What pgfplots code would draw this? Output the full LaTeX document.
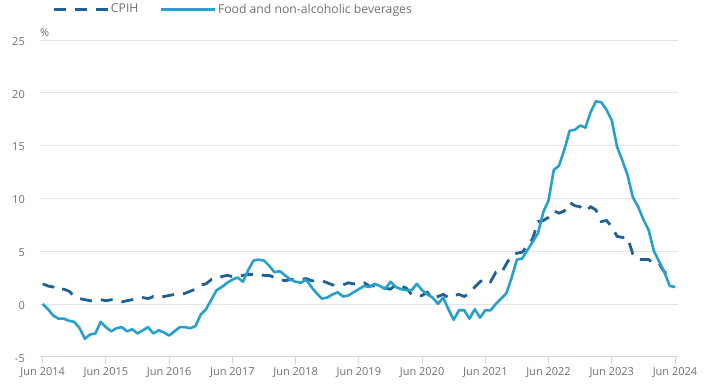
\documentclass[border=0pt]{standalone}
\usepackage{fontspec}
\setmainfont{Open Sans}
\usepackage{pgfplots}
\usepackage{pgfplotstable}
\pgfplotsset{compat=1.18}
\definecolor{cpihblue}{HTML}{206095}
\definecolor{foodblue}{HTML}{27A0CC}
\definecolor{gridgray}{HTML}{E4E4E4}
\definecolor{axisgray}{HTML}{CFD4E6}
\definecolor{txtgray}{HTML}{707070}

\pgfplotstableread{
m cpih food
0 1.9 0.0
1 1.7 -0.5
2 1.6 -1.1
3 1.3 -1.4
4 1.4 -1.4
5 1.2 -1.6
6 0.7 -1.7
7 0.5 -2.3
8 0.4 -3.3
9 0.3 -2.9
10 0.3 -2.8
11 0.4 -1.7
12 0.3 -2.2
13 0.4 -2.6
14 0.3 -2.3
15 0.2 -2.2
16 0.3 -2.6
17 0.4 -2.4
18 0.5 -2.8
19 0.6 -2.5
20 0.5 -2.2
21 0.7 -2.8
22 0.6 -2.5
23 0.7 -2.7
24 0.8 -3.0
25 0.9 -2.6
26 0.9 -2.2
27 1.0 -2.2
28 1.2 -2.3
29 1.4 -2.1
30 1.8 -1.0
31 1.9 -0.5
32 2.3 0.4
33 2.3 1.3
34 2.6 1.6
35 2.7 2.0
36 2.6 2.3
37 2.6 2.5
38 2.7 2.1
39 2.8 3.2
40 2.8 4.1
41 2.8 4.2
42 2.7 4.1
43 2.7 3.6
44 2.5 3.0
45 2.3 3.1
46 2.2 2.7
47 2.3 2.3
48 2.3 2.1
49 2.3 2.0
50 2.4 2.3
51 2.2 1.6
52 2.2 1.0
53 2.2 0.5
54 2.0 0.6
55 1.8 0.9
56 1.8 1.1
57 1.8 0.7
58 2.0 0.8
59 1.9 1.1
60 1.9 1.4
61 2.0 1.7
62 1.7 1.6
63 1.7 1.9
64 1.5 1.7
65 1.5 1.4
66 1.4 2.1
67 1.8 1.6
68 1.7 1.4
69 1.5 1.3
70 0.9 1.3
71 0.7 1.9
72 0.8 1.3
73 1.1 0.9
74 0.5 0.6
75 0.7 0.0
76 0.9 0.6
77 0.6 -0.5
78 0.8 -1.5
79 0.9 -0.6
80 0.7 -0.6
81 1.0 -1.4
82 1.6 -0.5
83 2.1 -1.3
84 2.4 -0.6
85 2.1 -0.6
86 3.0 0.0
87 2.9 0.5
88 3.8 1.0
89 4.6 2.5
90 4.8 4.2
91 4.9 4.3
92 5.5 5.1
93 6.2 5.9
94 7.8 6.7
95 7.9 8.7
96 8.2 9.8
97 8.8 12.7
98 8.6 13.1
99 8.8 14.6
100 9.6 16.4
101 9.3 16.5
102 9.2 16.9
103 8.8 16.7
104 9.2 18.2
105 8.9 19.2
106 7.8 19.1
107 7.9 18.4
108 7.3 17.4
109 6.4 14.9
110 6.3 13.6
111 6.3 12.2
112 4.7 10.1
113 4.2 9.2
114 4.2 8.0
115 4.2 7.0
116 3.8 5.0
117 3.8 4.0
118 3.0 3.0
119 2.8 1.7
120 2.8 1.6
}\datatable

\begin{document}
\begin{tikzpicture}
\path[use as bounding box] (0,0) rectangle (720pt,390pt);
\begin{axis}[
  at={(40pt,33.3pt)}, anchor=south west,
  scale only axis, width=638pt, height=316.7pt,
  xmin=-0.51, xmax=120.57, ymin=-5, ymax=25,
  axis x line*=bottom, axis y line*=left,
  y axis line style={draw=none},
  x axis line style={draw=axisgray, line width=1pt},
  xtick={0,12,...,120},
  xticklabels={Jun 2014,Jun 2015,Jun 2016,Jun 2017,Jun 2018,Jun 2019,Jun 2020,Jun 2021,Jun 2022,Jun 2023,Jun 2024},
  ytick={-5,0,...,25},
  tick align=outside,
  major tick length=7pt,
  x tick style={draw=axisgray, line width=1pt},
  y tick style={draw=none},
  ymajorgrids, grid style={draw=gridgray, line width=0.8pt},
  /pgf/number format/assume math mode=true,
  tick label style={font=\fontsize{11}{13}\selectfont, text=txtgray},
  xticklabel style={anchor=north, inner sep=0pt, yshift=-4pt},
  yticklabel style={anchor=east, inner sep=0pt, xshift=-8pt, yshift=-1.5pt},
  legend columns=2,
  legend style={draw=none, fill=none, at={(0.0188,1.097)}, anchor=west,
    font=\fontsize{12.2}{14}\selectfont, text=txtgray, inner sep=0pt,
    /tikz/every even column/.append style={column sep=19pt}},
  legend image code/.code={\draw[#1] (0pt,0pt) -- (54pt,0pt);},
  clip=false,
]
\addplot[cpihblue, line width=2.8pt, dash pattern=on 12pt off 9pt] table[x=m, y=cpih] {\datatable};
\addlegendentry{CPIH}
\addplot[foodblue, line width=2.6pt, line join=round] table[x=m, y=food] {\datatable};
\addlegendentry{Food and non-alcoholic beverages}
\node[anchor=south west, inner sep=0pt, font=\fontsize{11}{13}\selectfont, text=txtgray] at (axis description cs:0,1) [yshift=3pt] {\%};
\end{axis}
\end{tikzpicture}
\end{document}
